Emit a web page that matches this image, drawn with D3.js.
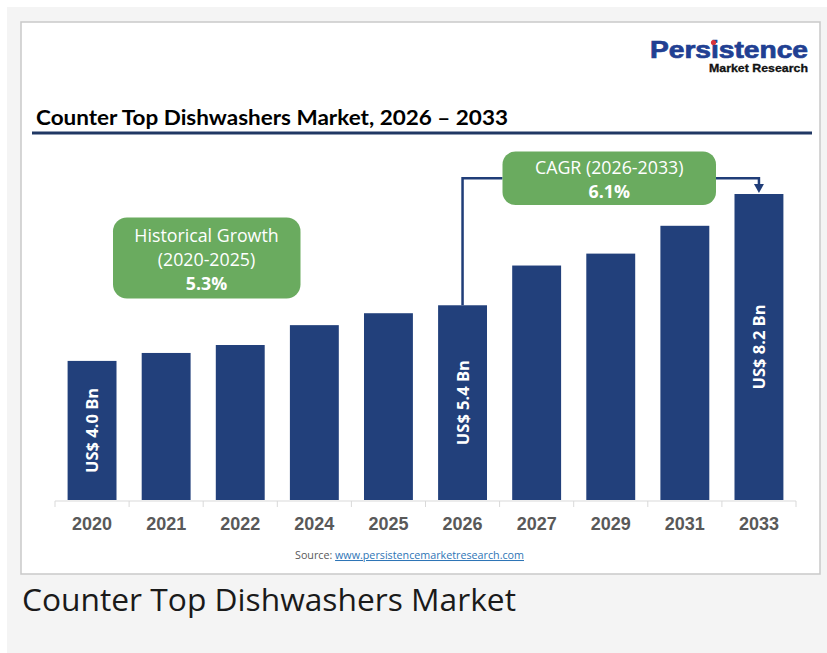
<!DOCTYPE html>
<html>
<head>
<meta charset="utf-8">
<script src="https://cdn.jsdelivr.net/npm/d3@7/dist/d3.min.js"></script>
<style>
  html, body { margin: 0; padding: 0; background: #ffffff; }
  svg { display: block; }
</style>
</head>
<body>
<svg width="827" height="653"></svg>
<script>
// chart data
var years = ["2020", "2021", "2022", "2024", "2025", "2026", "2027", "2029", "2031", "2033"];
var marketSize = [4.0, 4.2, 4.4, 4.9, 5.2, 5.4, 6.4, 6.7, 7.4, 8.2]; // US$ Bn
var barLabels = [
  { year: "2020", text: "US$ 4.0 Bn" },
  { year: "2026", text: "US$ 5.4 Bn" },
  { year: "2033", text: "US$ 8.2 Bn" }
];
var historicalLines = ["Historical Growth", "(2020-2025)", "5.3%"];
var cagrLines = ["CAGR (2026-2033)", "6.1%"];
var cagrFrom = "2026", cagrTo = "2033";

var navy = "#22407b";
var green = "#6aab5f";
var lineBlue = "#203d78";

var svg = d3.select("svg");

// page backgrounds
svg.append("rect").attr("x", 7).attr("y", 7).attr("width", 820).attr("height", 646).attr("fill", "#f4f4f4");
svg.append("rect").attr("x", 21).attr("y", 22).attr("width", 799).attr("height", 552)
  .attr("fill", "#ffffff").attr("stroke", "#c9c9c9").attr("stroke-width", 1.5);

// logo
svg.append("text").attr("x", 808).attr("y", 58).attr("text-anchor", "end")
  .attr("font-family", "Liberation Sans, Arial, sans-serif").attr("font-weight", "bold")
  .attr("font-size", 23).attr("fill", "#213f92")
  .attr("stroke", "#213f92").attr("stroke-width", 0.7)
  .attr("textLength", 158).attr("lengthAdjust", "spacingAndGlyphs")
  .text("Persistence");
svg.append("circle").attr("cx", 713.5).attr("cy", 42.5).attr("r", 2.6).attr("fill", "#d8343c");
svg.append("text").attr("x", 808).attr("y", 71.5).attr("text-anchor", "end")
  .attr("font-family", "Liberation Sans, Arial, sans-serif").attr("font-weight", "bold")
  .attr("font-size", 11).attr("fill", "#111111")
  .attr("stroke", "#111111").attr("stroke-width", 0.3)
  .attr("textLength", 99).attr("lengthAdjust", "spacingAndGlyphs")
  .text("Market Research");

// title
svg.append("text").attr("x", 36).attr("y", 125)
  .attr("font-family", "Lato, 'Open Sans', sans-serif").attr("font-weight", "bold")
  .attr("font-size", 21.5).attr("fill", "#000000")
  .attr("textLength", 472).attr("lengthAdjust", "spacingAndGlyphs")
  .text("Counter Top Dishwashers Market, 2026 \u2013 2033");
svg.append("line").attr("x1", 32).attr("x2", 812).attr("y1", 133).attr("y2", 133)
  .attr("stroke", "#203864").attr("stroke-width", 3);

// scales
var baseY = 500;
var x = d3.scaleBand().domain(years).range([55, 796]).paddingInner(0.34).paddingOuter(0.17);
var y = d3.scaleLinear().domain([0.5, 8.2]).range([baseY, 194]);
var data = years.map(function(yr, i) { return { year: yr, value: marketSize[i] }; });

// bars
svg.append("g").selectAll("rect").data(data).enter().append("rect")
  .attr("x", function(d) { return x(d.year); })
  .attr("y", function(d) { return y(d.value); })
  .attr("width", x.bandwidth())
  .attr("height", function(d) { return baseY - y(d.value); })
  .attr("fill", navy);

// bar value labels
svg.append("g").selectAll("text").data(barLabels).enter().append("text")
  .attr("transform", function(d) {
    var v = marketSize[years.indexOf(d.year)];
    var cx = x(d.year) + x.bandwidth() / 2;
    var cy = (y(v) + baseY) / 2;
    return "translate(" + cx + "," + cy + ") rotate(-90)";
  })
  .attr("text-anchor", "middle").attr("dy", "0.36em")
  .attr("font-family", "'Open Sans', sans-serif").attr("font-weight", "bold")
  .attr("font-size", 16.5).attr("fill", "#ffffff")
  .text(function(d) { return d.text; });

// x axis
var axisG = svg.append("g").attr("transform", "translate(0," + (baseY + 1) + ")")
  .call(d3.axisBottom(x).tickSize(0).tickPadding(16));
axisG.select(".domain").remove();
axisG.selectAll("text")
  .attr("font-family", "Liberation Sans, Arial, sans-serif").attr("font-weight", "bold")
  .attr("font-size", 18).attr("fill", "#595959");
axisG.append("line").attr("x1", x.range()[0]).attr("x2", x.range()[1])
  .attr("stroke", "#d9d9d9").attr("stroke-width", 1);
axisG.selectAll(".bound").data(d3.range(years.length + 1)).enter().append("line")
  .attr("class", "bound")
  .attr("x1", function(i) { return x.range()[0] + i * x.step(); })
  .attr("x2", function(i) { return x.range()[0] + i * x.step(); })
  .attr("y1", 0).attr("y2", 6)
  .attr("stroke", "#d9d9d9").attr("stroke-width", 1);

// historical growth callout
var hist = svg.append("g");
hist.append("rect").attr("x", 113).attr("y", 217.5).attr("width", 187.5).attr("height", 81)
  .attr("rx", 14).attr("fill", green);
hist.selectAll("text").data(historicalLines).enter().append("text")
  .attr("x", 206.5).attr("y", function(d, i) { return 241.5 + i * 24.3; })
  .attr("text-anchor", "middle")
  .attr("font-family", "'Open Sans', sans-serif")
  .attr("font-weight", function(d, i) { return i === 2 ? "bold" : "normal"; })
  .attr("font-size", 17.8).attr("fill", "#ffffff")
  .text(function(d) { return d; });

// CAGR callout and connector
var bx0 = 502.5, bx1 = 716, by0 = 151.5, by1 = 205;
var midY = (by0 + by1) / 2;
var fromX = x(cagrFrom) + x.bandwidth() / 2;
var toX = x(cagrTo) + x.bandwidth() / 2;
var fromY = y(marketSize[years.indexOf(cagrFrom)]);
var toY = y(marketSize[years.indexOf(cagrTo)]);

svg.append("path")
  .attr("d", "M" + fromX + "," + fromY + "V" + midY + "H" + bx0)
  .attr("fill", "none").attr("stroke", lineBlue).attr("stroke-width", 2.5);
svg.append("path")
  .attr("d", "M" + bx1 + "," + midY + "H" + toX + "V" + (toY - 9))
  .attr("fill", "none").attr("stroke", lineBlue).attr("stroke-width", 2.5);
svg.append("path")
  .attr("d", "M" + (toX - 5) + "," + (toY - 10) + "L" + (toX + 5) + "," + (toY - 10) + "L" + toX + "," + (toY - 1) + "Z")
  .attr("fill", lineBlue);

var cagr = svg.append("g");
cagr.append("rect").attr("x", bx0).attr("y", by0).attr("width", bx1 - bx0).attr("height", by1 - by0)
  .attr("rx", 13).attr("fill", green);
cagr.selectAll("text").data(cagrLines).enter().append("text")
  .attr("x", (bx0 + bx1) / 2).attr("y", function(d, i) { return 173.5 + i * 24.3; })
  .attr("text-anchor", "middle")
  .attr("font-family", "'Open Sans', sans-serif")
  .attr("font-weight", function(d, i) { return i === 1 ? "bold" : "normal"; })
  .attr("font-size", 17.8).attr("fill", "#ffffff")
  .text(function(d) { return d; });

// source line
var src = svg.append("text").attr("x", 295).attr("y", 559)
  .attr("font-family", "'Open Sans', sans-serif").attr("font-size", 10.2)
  .attr("textLength", 229).attr("lengthAdjust", "spacingAndGlyphs");
src.append("tspan").attr("fill", "#595959").text("Source: ");
src.append("tspan").attr("fill", "#2e75b6").attr("text-decoration", "underline")
  .text("www.persistencemarketresearch.com");

// caption below the card
svg.append("text").attr("x", 22).attr("y", 611)
  .attr("font-family", "'Open Sans', sans-serif").attr("font-size", 31.5)
  .attr("fill", "#1a1a1a")
  .attr("textLength", 494).attr("lengthAdjust", "spacingAndGlyphs")
  .text("Counter Top Dishwashers Market");
</script>
</body>
</html>
